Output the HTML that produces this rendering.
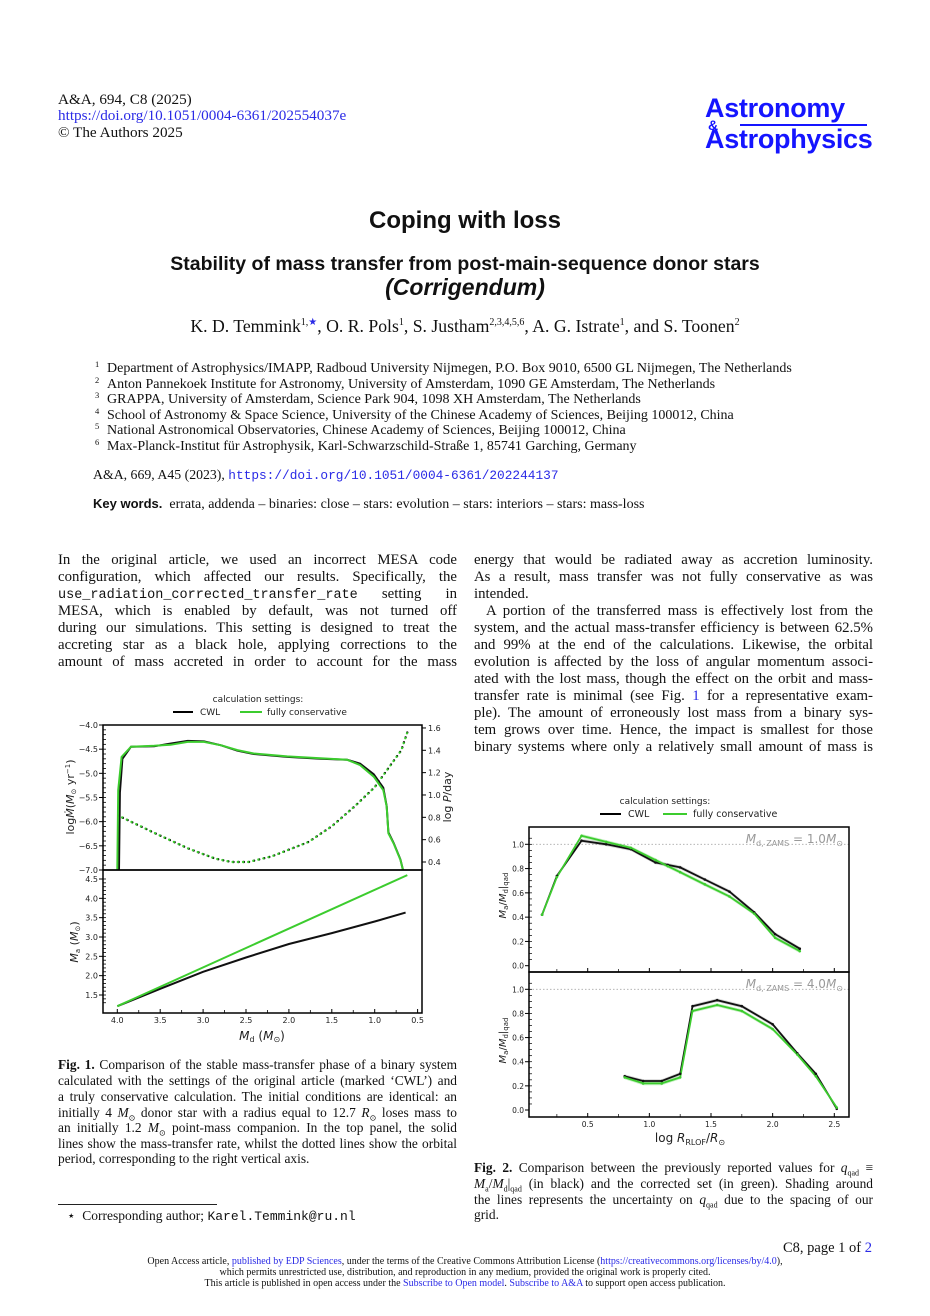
<!DOCTYPE html>
<html><head><meta charset="utf-8">
<style>
body{margin:0;background:#fff;}
#page{position:relative;width:930px;height:1316px;overflow:hidden;font-family:"Liberation Serif",serif;color:#111;}
.a{position:absolute;white-space:nowrap;}
.ln{position:absolute;width:399px;font-size:14.8px;line-height:17px;text-align:justify;text-align-last:justify;white-space:nowrap;}
.ln.last{text-align-last:left;}
.cap{position:absolute;width:399px;font-size:13.4px;line-height:15px;text-align:justify;text-align-last:justify;white-space:nowrap;}
.cap.last{text-align-last:left;}
.mono{font-family:"Liberation Mono",monospace;font-size:13px;}
.blue{color:#2a2ae6;}
.aff{position:absolute;left:95px;font-size:14px;line-height:15px;white-space:nowrap;}
.aff sup{font-size:8.5px;display:inline-block;width:12px;vertical-align:5px;}
sub,sup{line-height:0;}
.logo{position:absolute;font-family:"Liberation Sans",sans-serif;font-weight:bold;color:#1515ff;font-size:27px;letter-spacing:-0.3px;}
</style></head>
<body>
<div id="page">
<div class="a" style="left:58px;top:91px;font-size:15.2px;">A&amp;A, 694, C8 (2025)</div>
<div class="a blue" style="left:58px;top:107px;font-size:15.2px;">https://doi.org/10.1051/0004-6361/202554037e</div>
<div class="a" style="left:58px;top:124px;font-size:15.2px;">© The Authors 2025</div>

<div class="logo" style="left:705px;top:93px;">Astronomy</div>
<div class="a" style="left:740px;top:124px;width:127px;height:2px;background:#1515ff;"></div>
<div class="a" style="left:708px;top:117px;font-family:'Liberation Sans',sans-serif;font-weight:bold;color:#1515ff;font-size:14px;">&amp;</div>
<div class="logo" style="left:705px;top:124px;">Astrophysics</div>

<div class="a" style="left:0;width:930px;text-align:center;top:207px;font-family:'Liberation Sans',sans-serif;font-weight:bold;font-size:24px;">Coping with loss</div>
<div class="a" style="left:0;width:930px;text-align:center;top:253px;font-family:'Liberation Sans',sans-serif;font-weight:bold;font-size:19.5px;">Stability of mass transfer from post-main-sequence donor stars</div>
<div class="a" style="left:0;width:930px;text-align:center;top:274px;font-family:'Liberation Sans',sans-serif;font-weight:bold;font-style:italic;font-size:23px;">(Corrigendum)</div>
<div class="a" style="left:0;width:930px;text-align:center;top:316px;font-size:17.7px;">K. D. Temmink<sup style="font-size:10px;">1,<span class="blue">★</span></sup>, O. R. Pols<sup style="font-size:10px;">1</sup>, S. Justham<sup style="font-size:10px;">2,3,4,5,6</sup>, A. G. Istrate<sup style="font-size:10px;">1</sup>, and S. Toonen<sup style="font-size:10px;">2</sup></div>

<div class="aff" style="top:361px;"><sup>1</sup>Department of Astrophysics/IMAPP, Radboud University Nijmegen, P.O. Box 9010, 6500 GL Nijmegen, The Netherlands</div>
<div class="aff" style="top:377px;"><sup>2</sup>Anton Pannekoek Institute for Astronomy, University of Amsterdam, 1090 GE Amsterdam, The Netherlands</div>
<div class="aff" style="top:392px;"><sup>3</sup>GRAPPA, University of Amsterdam, Science Park 904, 1098 XH Amsterdam, The Netherlands</div>
<div class="aff" style="top:408px;"><sup>4</sup>School of Astronomy &amp; Space Science, University of the Chinese Academy of Sciences, Beijing 100012, China</div>
<div class="aff" style="top:423px;"><sup>5</sup>National Astronomical Observatories, Chinese Academy of Sciences, Beijing 100012, China</div>
<div class="aff" style="top:439px;"><sup>6</sup>Max-Planck-Institut für Astrophysik, Karl-Schwarzschild-Straße 1, 85741 Garching, Germany</div>
<div class="a" style="left:93px;top:467px;font-size:13.8px;">A&amp;A, 669, A45 (2023), <span class="blue mono" style="font-size:12.8px;">https://doi.org/10.1051/0004-6361/202244137</span></div>
<div class="a" style="left:93px;top:496px;font-size:14px;"><b style="font-family:'Liberation Sans',sans-serif;font-size:13px;">Key words.</b>&nbsp; errata, addenda – binaries: close – stars: evolution – stars: interiors – stars: mass-loss</div>

<!-- left column -->
<div class="ln" style="left:58px;top:552px;">In the original article, we used an incorrect MESA code</div>
<div class="ln" style="left:58px;top:569px;">configuration, which affected our results. Specifically, the</div>
<div class="ln" style="left:58px;top:586px;"><span class="mono" style="font-size:13.5px;">use_radiation_corrected_transfer_rate</span> setting in</div>
<div class="ln" style="left:58px;top:603px;">MESA, which is enabled by default, was not turned off</div>
<div class="ln" style="left:58px;top:620px;">during our simulations. This setting is designed to treat the</div>
<div class="ln" style="left:58px;top:637px;">accreting star as a black hole, applying corrections to the</div>
<div class="ln" style="left:58px;top:654px;">amount of mass accreted in order to account for the mass</div>
<!-- right column -->
<div class="ln" style="left:474px;top:552px;">energy that would be radiated away as accretion luminosity.</div>
<div class="ln" style="left:474px;top:569px;">As a result, mass transfer was not fully conservative as was</div>
<div class="ln last" style="left:474px;top:586px;">intended.</div>
<div class="ln" style="left:486px;top:603px;width:387px;">A portion of the transferred mass is effectively lost from the</div>
<div class="ln" style="left:474px;top:620px;">system, and the actual mass-transfer efficiency is between 62.5%</div>
<div class="ln" style="left:474px;top:637px;">and 99% at the end of the calculations. Likewise, the orbital</div>
<div class="ln" style="left:474px;top:654px;">evolution is affected by the loss of angular momentum associ-</div>
<div class="ln" style="left:474px;top:671px;">ated with the lost mass, though the effect on the orbit and mass-</div>
<div class="ln" style="left:474px;top:688px;">transfer rate is minimal (see Fig. <span class="blue">1</span> for a representative exam-</div>
<div class="ln" style="left:474px;top:705px;">ple). The amount of erroneously lost mass from a binary sys-</div>
<div class="ln" style="left:474px;top:722px;">tem grows over time. Hence, the impact is smallest for those</div>
<div class="ln" style="left:474px;top:739px;">binary systems where only a relatively small amount of mass is</div>

<!-- captions -->
<div class="cap" style="left:58px;top:1057px;"><b>Fig. 1.</b> Comparison of the stable mass-transfer phase of a binary system</div>
<div class="cap" style="left:58px;top:1073px;">calculated with the settings of the original article (marked ‘CWL’) and</div>
<div class="cap" style="left:58px;top:1089px;">a truly conservative calculation. The initial conditions are identical: an</div>
<div class="cap" style="left:58px;top:1105px;">initially 4 <i>M</i><sub style="font-size:8px;">⊙</sub> donor star with a radius equal to 12.7 <i>R</i><sub style="font-size:8px;">⊙</sub> loses mass to</div>
<div class="cap" style="left:58px;top:1120px;">an initially 1.2 <i>M</i><sub style="font-size:8px;">⊙</sub> point-mass companion. In the top panel, the solid</div>
<div class="cap" style="left:58px;top:1136px;">lines show the mass-transfer rate, whilst the dotted lines show the orbital</div>
<div class="cap last" style="left:58px;top:1151px;">period, corresponding to the right vertical axis.</div>

<div class="a" style="left:58px;top:1204px;width:159px;height:1px;background:#222;"></div>
<div class="a" style="left:67px;top:1208px;font-size:13.5px;">⋆&nbsp; Corresponding author; <span class="mono" style="font-size:13px;">Karel.Temmink@ru.nl</span></div>

<div class="cap" style="left:474px;top:1160px;"><b>Fig. 2.</b> Comparison between the previously reported values for <i>q</i><sub style="font-size:8px;">qad</sub> ≡</div>
<div class="cap" style="left:474px;top:1176px;"><i>M</i><sub style="font-size:8px;">a</sub>/<i>M</i><sub style="font-size:8px;">d</sub>|<sub style="font-size:8px;">qad</sub> (in black) and the corrected set (in green). Shading around</div>
<div class="cap" style="left:474px;top:1192px;">the lines represents the uncertainty on <i>q</i><sub style="font-size:8px;">qad</sub> due to the spacing of our</div>
<div class="cap last" style="left:474px;top:1207px;">grid.</div>

<div class="a" style="left:700px;width:172px;text-align:right;top:1240px;font-size:14.5px;">C8, page 1 of <span class="blue">2</span></div>
<div class="a" style="left:0;width:930px;text-align:center;top:1256px;font-size:10px;">Open Access article, <span class="blue">published by EDP Sciences</span>, under the terms of the Creative Commons Attribution License (<span class="blue">https://creativecommons.org/licenses/by/4.0</span>),</div>
<div class="a" style="left:0;width:930px;text-align:center;top:1267px;font-size:10px;">which permits unrestricted use, distribution, and reproduction in any medium, provided the original work is properly cited.</div>
<div class="a" style="left:0;width:930px;text-align:center;top:1278px;font-size:10px;">This article is published in open access under the <span class="blue">Subscribe to Open model</span>. <span class="blue">Subscribe to A&amp;A</span> to support open access publication.</div>

<svg id="charts" class="a" style="left:0;top:0;" width="930" height="1316" font-family="DejaVu Sans, Liberation Sans, sans-serif"></svg>
</div>

<script>
// ---------- Figure 1 data ----------
const fig1MdotGreenMd = [4.0,3.99,3.95,3.84,3.57,3.38,3.18,2.99,2.79,2.6,2.41,2.02,1.63,1.32,1.17,1.01,0.90,0.86,0.84,0.78,0.70,0.67];
const fig1MdotGreen   = [-7.0,-5.35,-4.66,-4.45,-4.43,-4.41,-4.35,-4.35,-4.42,-4.52,-4.59,-4.65,-4.69,-4.72,-4.83,-5.07,-5.35,-5.69,-6.24,-6.45,-6.79,-7.0];
const fig1MdotBlackMd = [3.98,3.97,3.94,3.84,3.57,3.4,3.18,2.99,2.79,2.6,2.41,2.02,1.63,1.32,1.17,1.01,0.90,0.86,0.84,0.78,0.70,0.67];
const fig1MdotBlack   = [-7.0,-5.4,-4.7,-4.45,-4.44,-4.39,-4.33,-4.34,-4.42,-4.53,-4.6,-4.66,-4.7,-4.72,-4.8,-5.02,-5.3,-5.68,-6.22,-6.44,-6.78,-7.0];
const fig1PMd   = [3.99,3.56,3.17,2.86,2.67,2.47,2.2,2.0,1.77,1.5,1.23,1.0,0.84,0.69,0.62];
const fig1LogP  = [0.815,0.657,0.52,0.43,0.40,0.40,0.45,0.51,0.58,0.72,0.90,1.07,1.24,1.40,1.56];
const fig1MaBlackMd = [4.0,3.5,3.0,2.5,2.0,1.5,1.0,0.64];
const fig1MaBlack   = [1.21,1.66,2.1,2.47,2.82,3.1,3.4,3.63];
const fig1MaGreenMd = [4.0,0.62];
const fig1MaGreen   = [1.21,4.6];
const fig1XTicks = ["4.0","3.5","3.0","2.5","2.0","1.5","1.0","0.5"];
const fig1MdotTicks = ["-4.0","-4.5","-5.0","-5.5","-6.0","-6.5","-7.0"];
const fig1PTicks = ["0.4","0.6","0.8","1.0","1.2","1.4","1.6"];
const fig1MaTicks = ["1.5","2.0","2.5","3.0","3.5","4.0","4.5"];

// ---------- Figure 2 data ----------
const fig2TopX     = [0.13,0.25,0.45,0.65,0.85,1.05,1.15,1.25,1.45,1.65,1.85,2.02,2.22];
const fig2TopCWL   = [0.42,0.74,1.03,1.0,0.96,0.85,0.83,0.81,0.71,0.61,0.44,0.26,0.14];
const fig2TopCons  = [0.42,0.73,1.07,1.02,0.97,0.87,0.82,0.77,0.67,0.57,0.43,0.23,0.12];
const fig2BotX     = [0.8,0.95,1.1,1.25,1.35,1.55,1.75,2.0,2.2,2.35,2.52];
const fig2BotCWL   = [0.28,0.24,0.24,0.30,0.86,0.91,0.86,0.71,0.47,0.30,0.01];
const fig2BotCons  = [0.27,0.22,0.22,0.27,0.82,0.87,0.82,0.67,0.46,0.28,0.02];
const fig2XTicks = ["0.5","1.0","1.5","2.0","2.5"];
const fig2YTicks = ["0.0","0.2","0.4","0.6","0.8","1.0"];

const svg = document.getElementById('charts');
const NS = 'http://www.w3.org/2000/svg';
function mk(tag, attrs, parent){const e=document.createElementNS(NS,tag);for(const k in attrs)e.setAttribute(k,attrs[k]);(parent||svg).appendChild(e);return e;}
function txt(x,y,s,size,anchor,parent,fill){const t=mk('text',{x:x,y:y,'font-size':size,'text-anchor':anchor||'middle',fill:fill||'#222'},parent);t.textContent=s;return t;}
const GREEN='#3ccc2e';

const f1x = md => 117.3 + (4.0 - md) * 85.8;
const f1yMdot = v => 725 + (-4.0 - v) * 48.33;
const f1yP = p => 862 - (p - 0.4) * 111.7;
const f1yMa = m => 995 - (m - 1.5) * 38.67;
const f2x = v => 587.7 + (v - 0.5) * 123.3;
const f2yT = v => 965.7 - v * 121.4;
const f2yB = v => 1110 - v * 120.7;

function pathFrom(xs, ys, fx, fy){return xs.map((x,i)=>(i?'L':'M')+fx(x).toFixed(1)+','+fy(ys[i]).toFixed(1)).join(' ');}

// ===== Figure 1 =====
const g1 = mk('g',{});


txt(258,702,'calculation settings:',9,'middle',g1);
let l=mk('line',{x1:173,y1:712,x2:193,y2:712,stroke:'#000','stroke-width':2},g1);

let t=txt(200,715,'CWL',9,'start',g1);

l=mk('line',{x1:240,y1:712,x2:262,y2:712,stroke:GREEN,'stroke-width':2},g1);

t=txt(267,715,'fully conservative',9,'start',g1);


fig1MdotTicks.forEach(s=>{const v=parseFloat(s);const y=f1yMdot(v);
 mk('line',{x1:99,y1:y,x2:103,y2:y,stroke:'#000','stroke-width':1},g1);
 txt(98,y+3,s.replace('-','−'),8,'end',g1);});
for(let v=-4.1;v>-7;v-=0.1){const y=f1yMdot(v);mk('line',{x1:103,y1:y,x2:106,y2:y,stroke:'#000','stroke-width':0.8},g1);}
fig1PTicks.forEach(s=>{const v=parseFloat(s);const y=f1yP(v);
 mk('line',{x1:422,y1:y,x2:426,y2:y,stroke:'#000','stroke-width':1},g1);
 txt(428,y+3,s,8,'start',g1);});
fig1MaTicks.forEach(s=>{const v=parseFloat(s);const y=f1yMa(v);
 mk('line',{x1:99,y1:y,x2:103,y2:y,stroke:'#000','stroke-width':1},g1);
 txt(98,y+3,s,8,'end',g1);});
for(let v=1.3;v<4.6;v+=0.1){const y=f1yMa(v);mk('line',{x1:103,y1:y,x2:106,y2:y,stroke:'#000','stroke-width':0.8},g1);}
fig1XTicks.forEach(s=>{const v=parseFloat(s);const x=f1x(v);
 mk('line',{x1:x,y1:1013,x2:x,y2:1009,stroke:'#000','stroke-width':1},g1);
 if(v>0.5) mk('line',{x1:f1x(v-0.25),y1:1013,x2:f1x(v-0.25),y2:1010,stroke:'#000','stroke-width':0.8},g1);
 txt(x,1023,s,8,'middle',g1);});
let p;
p=mk('path',{d:pathFrom(fig1PMd,fig1LogP,f1x,f1yP),fill:'none',stroke:'#000','stroke-width':2.4,'stroke-dasharray':'0 5.2','stroke-linecap':'round'},g1);

p=mk('path',{d:pathFrom(fig1PMd,fig1LogP,f1x,f1yP),fill:'none',stroke:GREEN,'stroke-width':2.4,'stroke-dasharray':'0 5.2','stroke-dashoffset':'0.8','stroke-linecap':'round'},g1);

p=mk('path',{d:pathFrom(fig1MdotBlackMd,fig1MdotBlack,f1x,f1yMdot),fill:'none',stroke:'#111','stroke-width':2},g1);

p=mk('path',{d:pathFrom(fig1MdotGreenMd,fig1MdotGreen,f1x,f1yMdot),fill:'none',stroke:GREEN,'stroke-width':2},g1);

p=mk('path',{d:pathFrom(fig1MaBlackMd,fig1MaBlack,f1x,f1yMa),fill:'none',stroke:'#111','stroke-width':2},g1);

p=mk('path',{d:pathFrom(fig1MaGreenMd,fig1MaGreen,f1x,f1yMa),fill:'none',stroke:GREEN,'stroke-width':2},g1);

mk('rect',{x:103,y:725,width:319,height:145,fill:'none',stroke:'#000','stroke-width':1.5},g1);
mk('rect',{x:103,y:870,width:319,height:143,fill:'none',stroke:'#000','stroke-width':1.5},g1);
t=mk('text',{x:0,y:0,'font-size':11,'text-anchor':'middle',fill:'#222',transform:'translate(74,797) rotate(-90)'},g1);
t.innerHTML='log<tspan font-style="italic">Ṁ</tspan>(<tspan font-style="italic">M</tspan><tspan font-size="7" dy="2">⊙</tspan><tspan dy="-2"> yr</tspan><tspan font-size="7" dy="-4">−1</tspan><tspan dy="4">)</tspan>';

t=mk('text',{x:0,y:0,'font-size':11,'text-anchor':'middle',fill:'#222',transform:'translate(451,797) rotate(-90)'},g1);
t.innerHTML='log <tspan font-style="italic">P</tspan>/day';

t=mk('text',{x:0,y:0,'font-size':11,'text-anchor':'middle',fill:'#222',transform:'translate(78,942) rotate(-90)'},g1);
t.innerHTML='<tspan font-style="italic">M</tspan><tspan font-size="7" dy="2">a</tspan><tspan dy="-2"> (</tspan><tspan font-style="italic">M</tspan><tspan font-size="7" dy="2">⊙</tspan><tspan dy="-2">)</tspan>';

t=mk('text',{x:262,y:1040,'font-size':12,'text-anchor':'middle',fill:'#222'},g1);
t.innerHTML='<tspan font-style="italic">M</tspan><tspan font-size="8" dy="2">d</tspan><tspan dy="-2"> (</tspan><tspan font-style="italic">M</tspan><tspan font-size="8" dy="2">⊙</tspan><tspan dy="-2">)</tspan>';


// ===== Figure 2 =====
const g2 = mk('g',{});


txt(665,804,'calculation settings:',9,'middle',g2);
l=mk('line',{x1:600,y1:814,x2:621,y2:814,stroke:'#000','stroke-width':2},g2);

t=txt(628,817,'CWL',9.5,'start',g2);

l=mk('line',{x1:663,y1:814,x2:687,y2:814,stroke:GREEN,'stroke-width':2},g2);

t=txt(693,817,'fully conservative',9.5,'start',g2);


function band(xs,ys,fx,fy,color,parent){
  const up=xs.map((x,i)=>fx(x).toFixed(1)+','+fy(ys[i]+0.015).toFixed(1));
  const dn=xs.map((x,i)=>fx(x).toFixed(1)+','+fy(ys[i]-0.015).toFixed(1)).reverse();
  return mk('polygon',{points:up.concat(dn).join(' '),fill:color,opacity:0.3},parent);
}
function panel(fy, y0, y1, xs, cwl, cons, label, name){
  const gp=mk('g',{},g2);
  
  mk('line',{x1:529,y1:fy(1.0),x2:849,y2:fy(1.0),stroke:'#aaa','stroke-width':0.8,'stroke-dasharray':'1.5 2'},gp);
  fig2YTicks.forEach(s=>{const v=parseFloat(s);const y=fy(v);
    mk('line',{x1:525,y1:y,x2:529,y2:y,stroke:'#000','stroke-width':1},gp);
    txt(524,y+3,s,7.5,'end',gp);});
  for(let v=0.05;v<1.1;v+=0.05){const y=fy(v);mk('line',{x1:529,y1:y,x2:532,y2:y,stroke:'#000','stroke-width':0.7},gp);}
  let b=band(xs,cwl,f2x,fy,'#777',gp);
  
  b=band(xs,cons,f2x,fy,GREEN,gp);
  
  let pc=mk('path',{d:pathFrom(xs,cwl,f2x,fy),fill:'none',stroke:'#111','stroke-width':1.8},gp);
  
  let pg=mk('path',{d:pathFrom(xs,cons,f2x,fy),fill:'none',stroke:GREEN,'stroke-width':1.8},gp);
  
  xs.forEach((x,i)=>{mk('circle',{cx:f2x(x),cy:fy(cwl[i]),r:1.3,fill:'#111'},gp);mk('circle',{cx:f2x(x),cy:fy(cons[i]),r:1.3,fill:GREEN},gp);});
  mk('rect',{x:529,y:y0,width:320,height:y1-y0,fill:'none',stroke:'#000','stroke-width':1.5},gp);
  const a=mk('text',{x:843,y:y0+16,'font-size':12,'text-anchor':'end',fill:'#999'},gp);
  a.innerHTML='<tspan font-style="italic">M</tspan><tspan font-size="8" dy="3">d, ZAMS</tspan><tspan dy="-3"> = '+label+'</tspan><tspan font-style="italic">M</tspan><tspan font-size="8" dy="3">⊙</tspan>';
  
  const yt=mk('text',{x:0,y:0,'font-size':10,'text-anchor':'middle',fill:'#222',transform:'translate(506,'+((y0+y1)/2-4)+') rotate(-90)'},gp);
  yt.innerHTML='<tspan font-style="italic">M</tspan><tspan font-size="7" dy="2">a</tspan><tspan dy="-2">/</tspan><tspan font-style="italic">M</tspan><tspan font-size="7" dy="2">d</tspan><tspan dy="-2">|</tspan><tspan font-size="7" dy="2">qad</tspan>';
  
}
panel(f2yT,827,972,fig2TopX,fig2TopCWL,fig2TopCons,'1.0','panel-1msun');
panel(f2yB,972,1117,fig2BotX,fig2BotCWL,fig2BotCons,'4.0','panel-4msun');
fig2XTicks.forEach(s=>{const v=parseFloat(s);const x=f2x(v);
  mk('line',{x1:x,y1:1117,x2:x,y2:1113,stroke:'#000','stroke-width':1},g2);
  mk('line',{x1:f2x(v-0.25),y1:1117,x2:f2x(v-0.25),y2:1114,stroke:'#000','stroke-width':0.7},g2);
  mk('line',{x1:f2x(v-0.25),y1:972,x2:f2x(v-0.25),y2:969,stroke:'#000','stroke-width':0.7},g2);
  mk('line',{x1:x,y1:972,x2:x,y2:968,stroke:'#000','stroke-width':1},g2);
  txt(x,1127,s,7.5,'middle',g2);});
t=mk('text',{x:690,y:1142,'font-size':12,'text-anchor':'middle',fill:'#222'},g2);
t.innerHTML='log <tspan font-style="italic">R</tspan><tspan font-size="8" dy="3">RLOF</tspan><tspan dy="-3">/</tspan><tspan font-style="italic">R</tspan><tspan font-size="8" dy="3">⊙</tspan>';

</script>
</body></html>
